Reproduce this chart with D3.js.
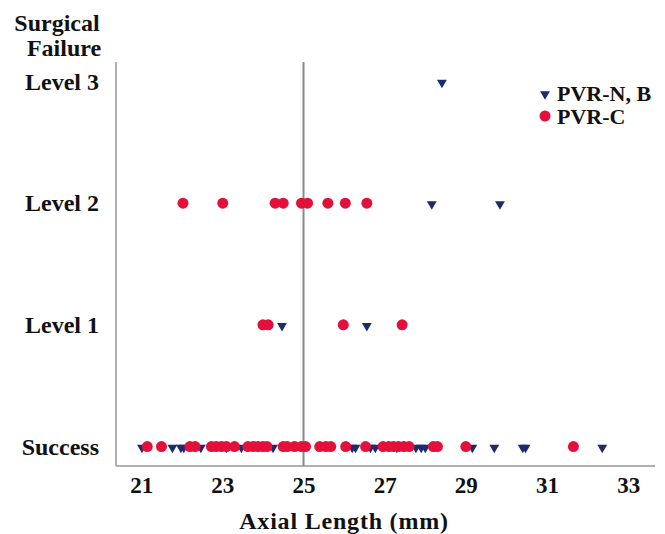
<!DOCTYPE html>
<html>
<head>
<meta charset="utf-8">
<script src="https://cdn.jsdelivr.net/npm/d3@7"></script>
<style>
  body { margin: 0; background: #fff; }
  text { font-family: "Liberation Serif", "DejaVu Serif", serif; font-weight: bold; fill: #111; }
</style>
</head>
<body>
<script>
// categories on the y axis (index = failure level)
var levels = ["Success", "Level 1", "Level 2", "Level 3"];
var xTicks = [21, 23, 25, 27, 29, 31, 33];

// PVR-N, B (triangles) axial lengths per level
var nbSuccess = [21.02, 21.77, 21.98, 22.05, 22.47, 23.1, 23.47, 24.25, 26.2, 26.28, 26.65, 26.77, 27.3,
                 27.77, 27.9, 28.0, 29.16, 29.7, 30.4, 30.47, 32.36];
var nbLevel1 = [24.47, 26.56];
var nbLevel2 = [28.16, 29.84];
var nbLevel3 = [28.41];

// PVR-C (circles) axial lengths per level
var cSuccess = [21.15, 21.5, 22.2, 22.33, 22.73, 22.85, 22.98, 23.1, 23.3, 23.63, 23.76, 23.88, 24.0, 24.1,
                24.5, 24.6, 24.78, 24.95, 25.05, 25.4, 25.55, 25.67, 26.04, 26.53, 26.96, 27.1, 27.22,
                27.34, 27.47, 27.6, 28.2, 28.3, 29.0, 31.65];
var cLevel1 = [24.0, 24.13, 25.98, 27.43];
var cLevel2 = [22.03, 23.01, 24.3, 24.5, 24.95, 25.1, 25.6, 26.03, 26.56];
var cLevel3 = [];

var refLine = 25;

var width = 665, height = 534;
var navy = "#1c2a6e", red = "#e3103c", gray = "#b0b0b0";

var svg = d3.select("body").append("svg")
  .attr("width", width)
  .attr("height", height);

var x = d3.scaleLinear().domain([20.38, 33.66]).range([116, 655]);
var y = d3.scaleLinear().domain([-0.16, 3.16]).range([466, 62]);

// axes lines
svg.append("line")
  .attr("x1", x.range()[0]).attr("x2", x.range()[0])
  .attr("y1", y.range()[1]).attr("y2", y.range()[0])
  .attr("stroke", gray).attr("stroke-width", 2);
svg.append("line")
  .attr("x1", x.range()[0]).attr("x2", x.range()[1])
  .attr("y1", y.range()[0]).attr("y2", y.range()[0])
  .attr("stroke", gray).attr("stroke-width", 2);

// x axis tick labels
var xAxis = svg.append("g")
  .attr("transform", "translate(0," + y.range()[0] + ")")
  .call(d3.axisBottom(x).tickValues(xTicks).tickSize(0).tickPadding(11).tickFormat(d3.format("d")));
xAxis.select(".domain").remove();
xAxis.selectAll("text")
  .style("font-family", '"Liberation Serif", serif')
  .style("font-weight", "bold")
  .style("font-size", "23px")
  .attr("fill", "#111");

// y axis labels
var yAxis = svg.append("g")
  .attr("transform", "translate(99,0)")
  .call(d3.axisLeft(y).tickValues([0, 1, 2, 3]).tickSize(0).tickPadding(0).tickFormat(function(d) { return levels[d]; }));
yAxis.select(".domain").remove();
yAxis.selectAll("text")
  .style("font-family", '"Liberation Serif", serif')
  .style("font-weight", "bold")
  .style("font-size", "24px")
  .attr("fill", "#111");

// titles
svg.append("text").attr("x", 57).attr("y", 31).attr("text-anchor", "middle")
  .style("font-size", "24px").text("Surgical");
svg.append("text").attr("x", 64).attr("y", 56).attr("text-anchor", "middle")
  .style("font-size", "24px").text("Failure");
svg.append("text").attr("x", 344).attr("y", 529).attr("text-anchor", "middle")
  .style("font-size", "24px").style("letter-spacing", "0.8px").text("Axial Length (mm)");

// reference line at 25 mm
svg.append("line")
  .attr("x1", x(refLine)).attr("x2", x(refLine))
  .attr("y1", y.range()[1]).attr("y2", y.range()[0])
  .attr("stroke", "#8a8a8a").attr("stroke-width", 2);

function flat(groups) {
  var out = [];
  groups.forEach(function(g, i) {
    g.forEach(function(v) { out.push({ v: v, lvl: i }); });
  });
  return out;
}

var tri = d3.symbol().type(d3.symbolTriangle).size(42);

svg.append("g").selectAll("path")
  .data(flat([nbSuccess, nbLevel1, nbLevel2, nbLevel3]))
  .enter().append("path")
  .attr("d", tri)
  .attr("transform", function(d) { return "translate(" + x(d.v) + "," + (y(d.lvl) + 1) + ") rotate(180)"; })
  .attr("fill", navy);

svg.append("g").selectAll("circle")
  .data(flat([cSuccess, cLevel1, cLevel2, cLevel3]))
  .enter().append("circle")
  .attr("cx", function(d) { return x(d.v); })
  .attr("cy", function(d) { return y(d.lvl); })
  .attr("r", 5.5)
  .attr("fill", red);

// legend
var legend = svg.append("g").attr("transform", "translate(545,93)");
legend.append("path").attr("d", tri).attr("transform", "translate(0,1) rotate(180)").attr("fill", navy);
legend.append("text").attr("x", 12).attr("y", 8).style("font-size", "22px").text("PVR-N, B");
legend.append("circle").attr("cx", 0).attr("cy", 23).attr("r", 5.5).attr("fill", red);
legend.append("text").attr("x", 12).attr("y", 31).style("font-size", "22px").text("PVR-C");
</script>
</body>
</html>
